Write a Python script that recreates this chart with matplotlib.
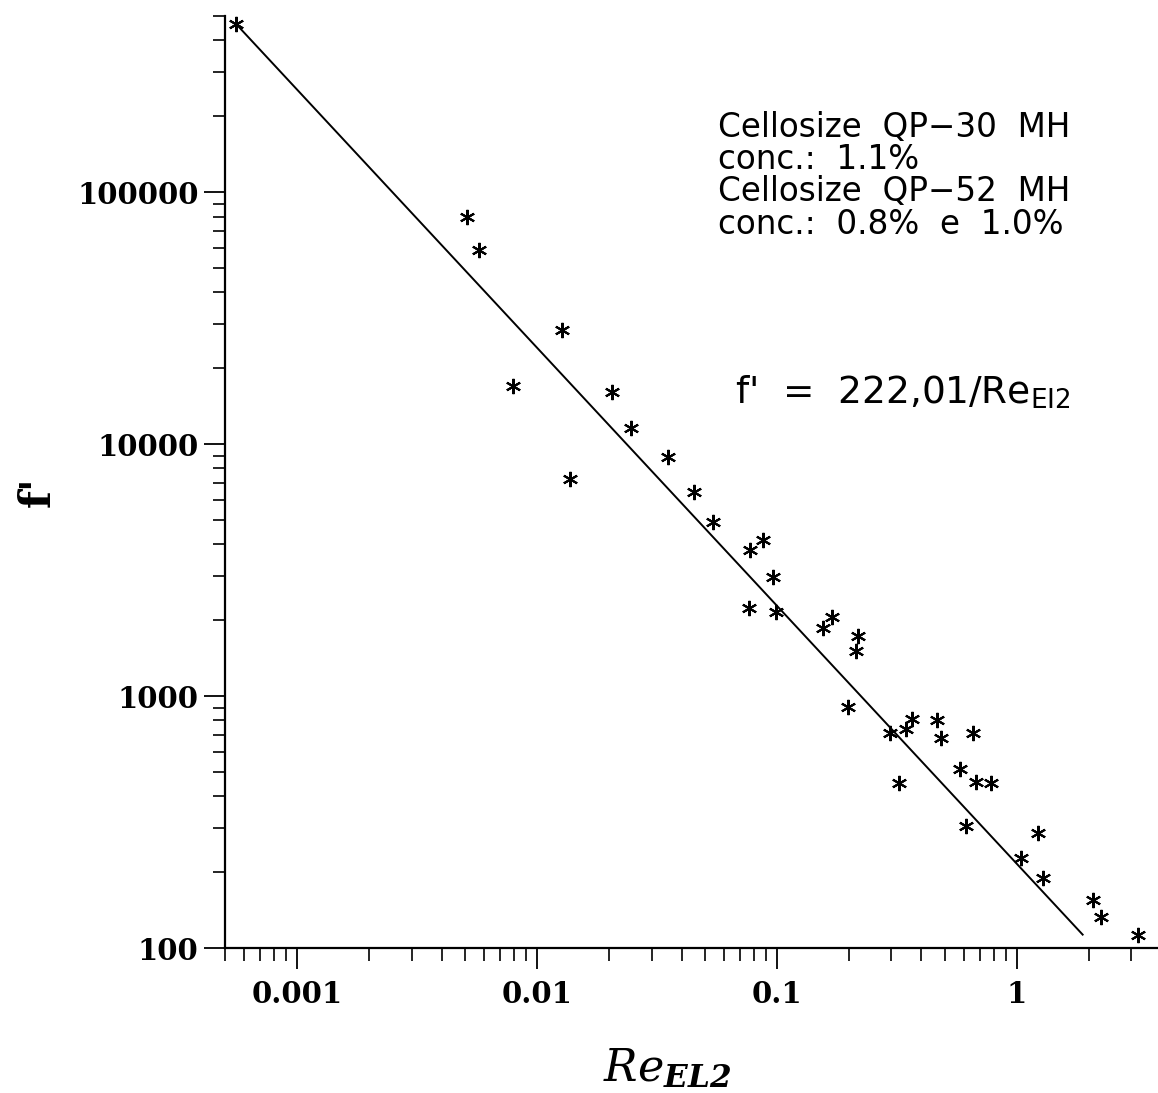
import numpy as np
import matplotlib
matplotlib.use("Agg")
import matplotlib.pyplot as plt
from matplotlib.ticker import LogLocator, FuncFormatter, NullFormatter

# values
re_el2 = [0.000557, 0.0051, 0.00573, 0.00794, 0.0127, 0.01372, 0.02054, 0.02465,
          0.0352, 0.0451, 0.0541, 0.0874, 0.0772, 0.0962, 0.0764, 0.099,
          0.1695, 0.1555, 0.2175, 0.2134, 0.1977, 0.296, 0.3446, 0.365,
          0.464, 0.482, 0.656, 0.322, 0.579, 0.675, 0.779, 0.613,
          1.223, 1.039, 1.283, 2.074, 2.239, 3.19]
f_prime = [464000, 79600, 58900, 17000, 28300, 7260, 16070, 11560,
           8870, 6460, 4900, 4160, 3790, 2965, 2234, 2155,
           2057, 1862, 1730, 1510, 904, 713, 739, 811,
           804, 681, 713, 452, 513, 456, 452, 305,
           286, 227, 190, 155, 133, 113]

fit_re = [0.000557, 1.88]
fit_f = [464000, 113]

legend_lines = ["Cellosize  QP\u221230  MH", "conc.:  1.1%",
                "Cellosize  QP\u221252  MH", "conc.:  0.8%  e  1.0%"]

plt.rcParams['mathtext.fontset'] = 'custom'
plt.rcParams['mathtext.it'] = 'DejaVu Serif:italic'
plt.rcParams['mathtext.bf'] = 'DejaVu Serif:italic:bold'

W, H = 1158, 1093
fig = plt.figure(figsize=(W / 100, H / 100), dpi=100)
ax = fig.add_axes([225 / W, 1 - 948 / H, 935 / W, 932 / H])

ax.plot(fit_re, fit_f, color='black', lw=1.4)
ax.plot(re_el2, f_prime, ls='none', marker=(6, 2, 0), ms=11, mew=1.5, color='black')

ax.set_xscale('log')
ax.set_yscale('log')
ax.set_xlim(0.0005, 3.95)
ax.set_ylim(100, 500000)

for s in ['top', 'right']:
    ax.spines[s].set_visible(False)
for s in ['left', 'bottom']:
    ax.spines[s].set_linewidth(1.6)

ax.xaxis.set_major_locator(LogLocator(base=10))
ax.yaxis.set_major_locator(LogLocator(base=10))
ax.xaxis.set_minor_locator(LogLocator(base=10, subs=np.arange(2, 10)))
ax.yaxis.set_minor_locator(LogLocator(base=10, subs=np.arange(2, 10)))
fmt = FuncFormatter(lambda v, p: '{:g}'.format(v))
ax.xaxis.set_major_formatter(fmt)
ax.yaxis.set_major_formatter(fmt)
ax.xaxis.set_minor_formatter(NullFormatter())
ax.yaxis.set_minor_formatter(NullFormatter())

ax.tick_params(axis='both', which='major', direction='out', length=15, width=1.3)
ax.tick_params(axis='both', which='minor', direction='out', length=9, width=1.2)
ax.tick_params(axis='x', which='major', pad=8)
ax.tick_params(axis='y', which='major', pad=4)
for lab in ax.get_xticklabels() + ax.get_yticklabels():
    lab.set_fontfamily('DejaVu Serif')
    lab.set_fontweight('bold')
    lab.set_fontsize(21)

fig.text(38 / W, 1 - 492 / H, "f'", rotation=90, ha='center', va='center',
         family='DejaVu Serif', fontweight='bold', fontsize=30)
fig.text(667 / W, 1 - 1068 / H, r'$\mathit{Re}_{\mathbf{EL2}}$', ha='center', va='center',
         fontsize=32)

ys = [137, 169, 201, 234]
for txt, yb in zip(legend_lines, ys):
    fig.text(718 / W, 1 - yb / H, txt, ha='left', va='baseline',
             family='DejaVu Sans', fontsize=23.5)

fig.text(735 / W, 1 - 403 / H, r"f'  =  222,01/Re$_{\mathregular{EI2}}$", ha='left',
         va='baseline', family='DejaVu Sans', fontsize=27)

fig.savefig('out.png', dpi=100)
